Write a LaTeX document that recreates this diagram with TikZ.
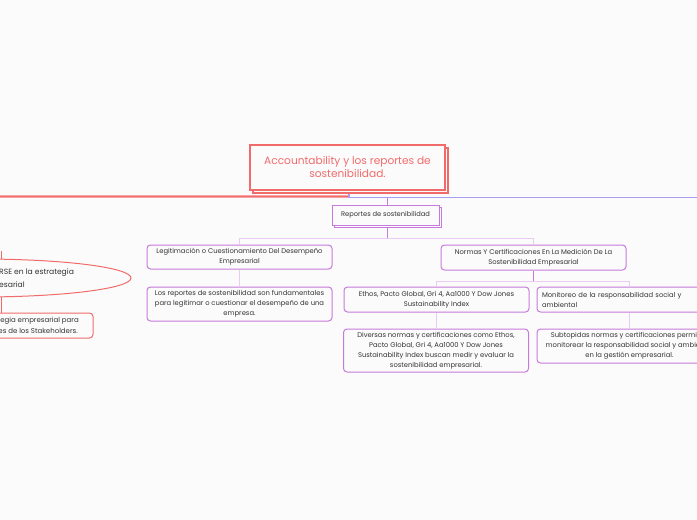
\documentclass[tikz,border=0pt]{standalone}
\usepackage{fontspec}
\setmainfont{Poppins}
\definecolor{bg}{HTML}{FBFBFB}
\definecolor{redc}{HTML}{F26B6B}
\definecolor{redl}{HTML}{F7A3A3}
\definecolor{purp}{HTML}{C67ADB}
\definecolor{purpl}{HTML}{EBCBF3}
\definecolor{lav}{HTML}{A99CF3}
\definecolor{txt}{HTML}{333333}
\tikzset{
  titlebox/.style={draw=redc, line width=1.1pt, fill=bg, minimum width=195pt, minimum height=45pt, inner sep=0pt, text=redc, align=center, font=\fontsize{10.6}{13}\selectfont},
  shadowbox/.style={draw=redc, line width=1.1pt, fill=bg, inner sep=0pt},
  repbox/.style={draw=purp, line width=1pt, fill=bg, minimum width=107pt, minimum height=20pt, inner sep=0pt, text=txt, font=\fontsize{6.7}{8}\selectfont},
  pbox/.style={draw=purp, line width=1pt, rounded corners=3.5pt, fill=bg, minimum width=185pt, inner sep=0pt, text=txt, align=center, font=\fontsize{6.8}{10}\selectfont},
  rtext/.style={text=txt, inner sep=0pt, font=\fontsize{7.6}{10}\selectfont},
  lconn/.style={draw=purpl, line width=1pt},
  mconn/.style={draw=purp, line width=1pt},
}
\begin{document}
\begin{tikzpicture}[x=1pt,y=-1pt]
\useasboundingbox (0,0) rectangle (697,520);
\clip (0,0) rectangle (697,520);
\fill[bg] (0,0) rectangle (697,520);

% top level lines
\coordinate (redend) at (0,196.5);
\coordinate (split) at (349,196.5);
\coordinate (lavend) at (697,197.5);
\draw[redl, line width=2.2pt] (redend) -- (split);
\draw[redc, line width=1pt] (redend) -- (split);
\draw[lav, line width=1.1pt] (349,190) -- (349,197.5) -- (lavend);

% title
\node[shadowbox, minimum width=195pt, minimum height=45pt] (titleshadow) at (350.5,170.5) {};
\node[titlebox] (title) at (347.5,167.5) {Accountability y los reportes de\\sostenibilidad.};

% reportes box
\coordinate (repin) at (387,197.5);
\node[repbox, draw=purp, minimum width=107pt, minimum height=20pt] (repshadow) at (388,217) {};
\node[repbox] (rep) at (385.5,215) {Reportes de sostenibilidad};
\draw[mconn] (repin) -- (rep.north -| repin);

% level 2
\node[pbox, minimum height=24pt] (leg) at (239.5,257) {Legitimación o Cuestionamiento Del Desempeño\\Empresarial};
\node[pbox, minimum height=25pt] (nor) at (533.5,257.5) {Normas Y Certificaciones En La Medición De La\\Sostenibilidad Empresarial};
\coordinate (bus1) at (387,238);
\draw[mconn] (repshadow.south -| bus1) -- (bus1);
\draw[lconn] (leg.north) -- (leg.north |- bus1) -- (nor.north |- bus1) -- (nor.north);

% left leaf
\node[pbox, minimum height=34pt] (lrep) at (239.5,304) {Los reportes de sostenibilidad son fundamentales\\para legitimar o cuestionar el desempeño de una\\empresa.};
\draw[lconn] (leg.south) -- (lrep.north);

% level 3 right
\node[pbox, minimum height=25pt] (eth) at (436.5,299.5) {Ethos, Pacto Global, Gri 4, Aa1000 Y Dow Jones\\Sustainability Index};
\node[pbox, minimum height=25pt, text width=175pt, align=left] (mon) at (629.5,299.5) {Monitoreo de la responsabilidad social y\\ambiental};
\coordinate (bus2) at (533.5,281);
\draw[mconn] (nor.south) -- (bus2);
\draw[lconn] (eth.north) -- (eth.north |- bus2) -- (mon.north |- bus2) -- (mon.north);

\node[pbox, minimum height=43pt] (div) at (436,350.5) {Diversas normas y certificaciones como Ethos,\\Pacto Global, Gri 4, Aa1000 Y Dow Jones\\Sustainability Index buscan medir y evaluar la\\sostenibilidad empresarial.};
\node[pbox, minimum height=34pt] (sub) at (629.5,346) {Subtopidas normas y certificaciones permiten\\monitorear la responsabilidad social y ambiental\\en la gestión empresarial.};
\draw[lconn] (eth.south) -- (eth.south |- div.north);
\draw[lconn] (mon.south) -- (mon.south |- sub.north);

% left red branch
\draw[redc, line width=1pt] (-20,278) ellipse [x radius=151pt, y radius=19pt];
\node[rtext, anchor=west] (rse1) at (-1,272.5) {RSE en la estrategia};
\node[rtext, anchor=west] (rse2) at (-1,284.5) {esarial};
\draw[redc, line width=1pt, rounded corners=3.5pt, fill=bg] (-100,313) rectangle (93,338);
\node[rtext, anchor=east, font=\fontsize{7}{10}\selectfont] (stk1) at (79,321) {tegia empresarial para};
\node[rtext, anchor=east, font=\fontsize{7}{10}\selectfont] (stk2) at (78,331) {es de los Stakeholders.};
\draw[redc, line width=1pt] (1,297) -- (1,313);
\draw[redc, line width=1pt] (1,251) -- (1,259);
\end{tikzpicture}
\end{document}
